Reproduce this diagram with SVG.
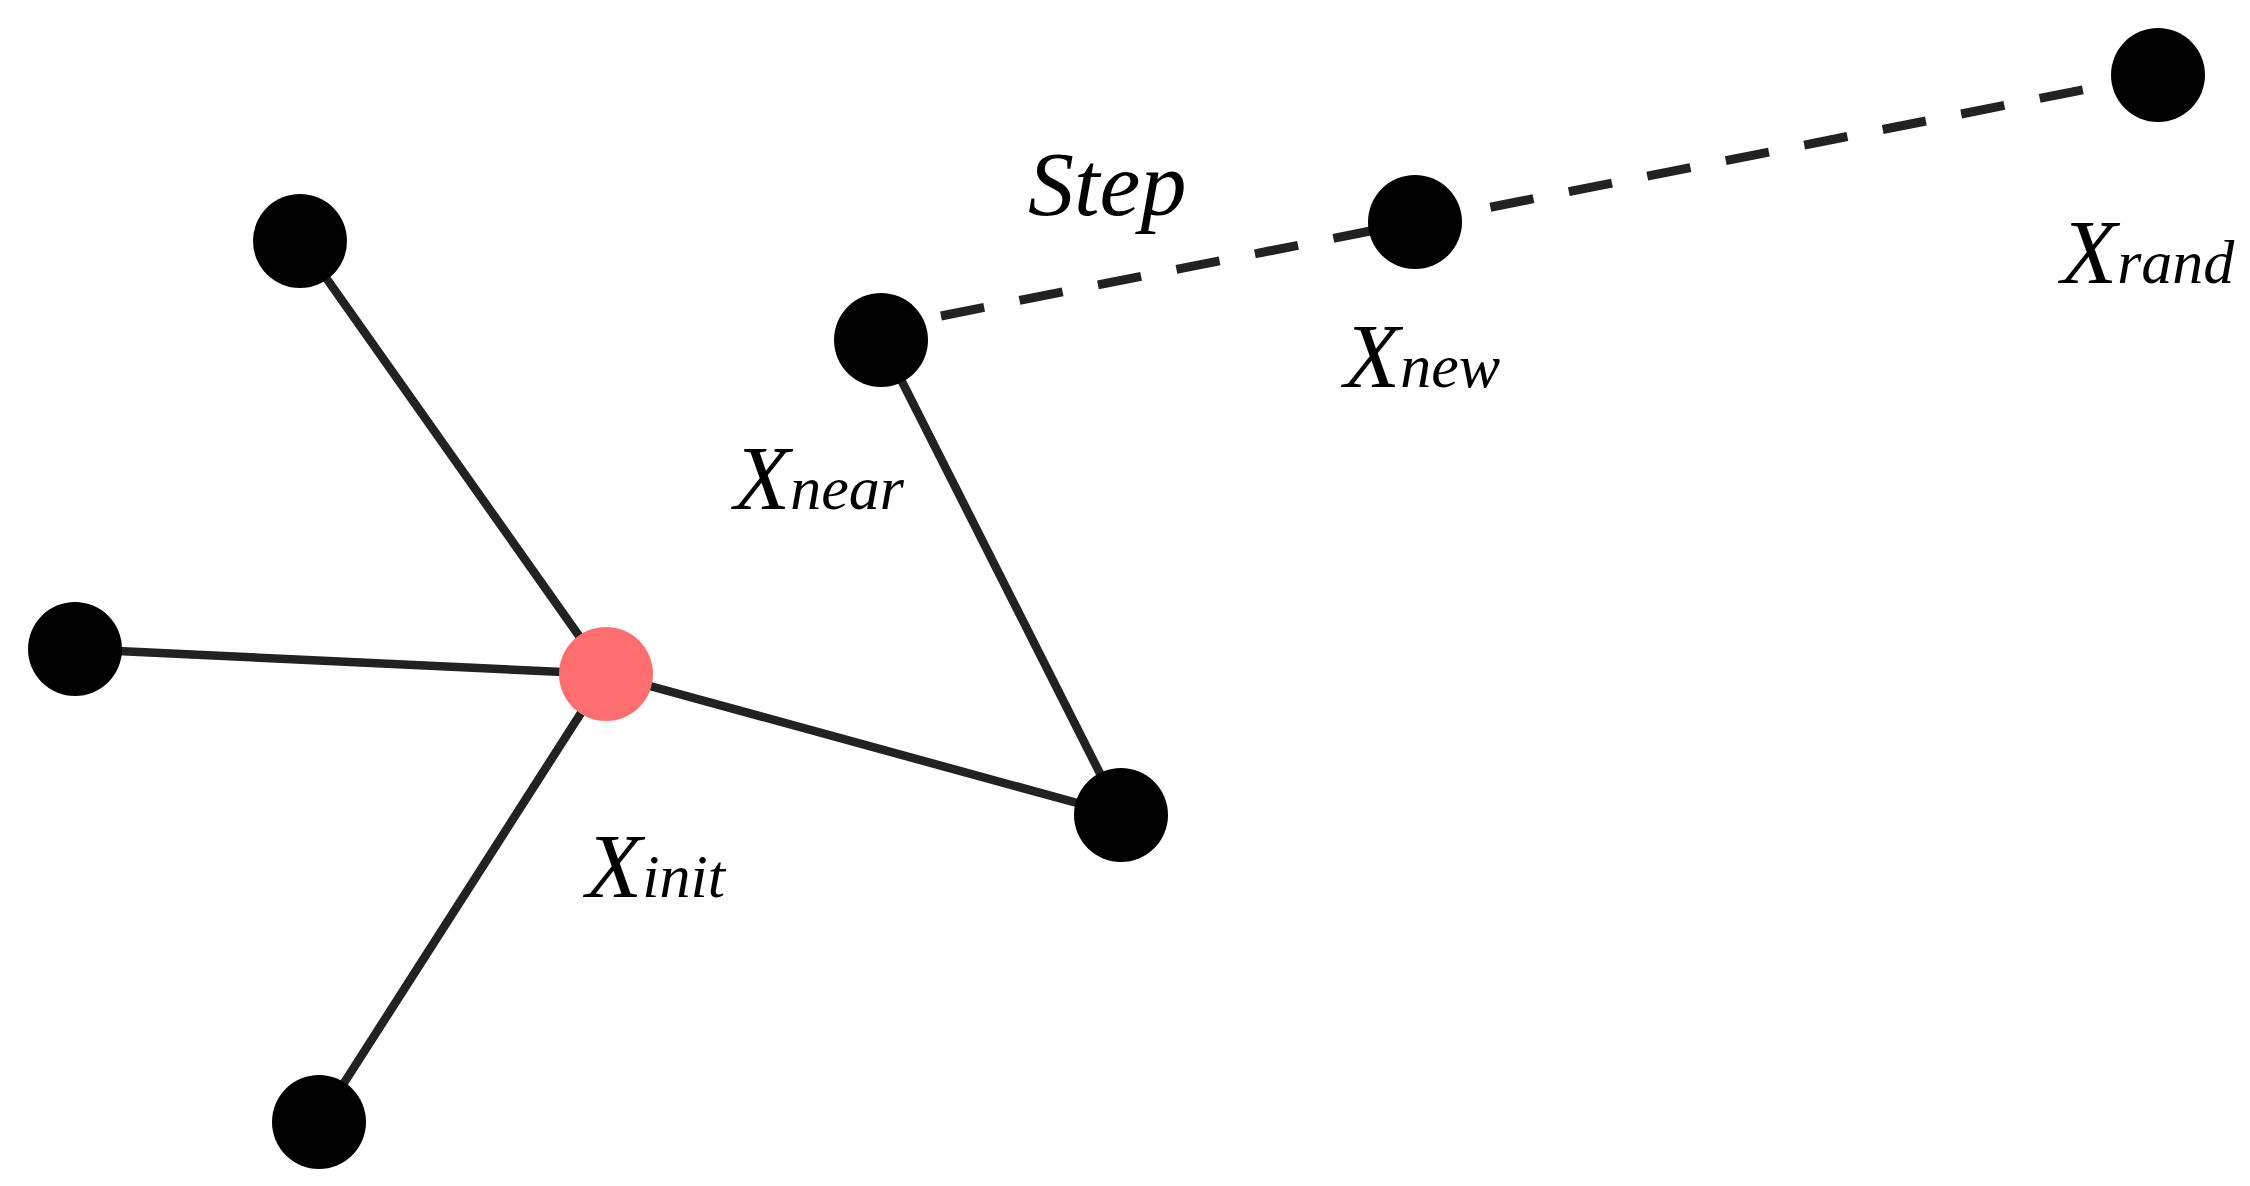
<svg xmlns="http://www.w3.org/2000/svg" width="2250" height="1186" viewBox="0 0 2250 1186">
<style>
.n{fill:#000}
.e{stroke:#222;stroke-width:8.5;fill:none}
.d{stroke:#222;stroke-width:9;stroke-dasharray:44 36;fill:none}
.t{font-family:"Liberation Serif",serif;font-style:italic;fill:#000}
</style>
<rect width="2250" height="1186" fill="#fff"/>
<g id="edges">
<line class="e" x1="606" y1="674" x2="300" y2="241"/>
<line class="e" x1="606" y1="674" x2="75" y2="649"/>
<line class="e" x1="606" y1="674" x2="319" y2="1122"/>
<line class="e" x1="606" y1="674" x2="1121" y2="815"/>
<line class="e" x1="1121" y1="815" x2="881" y2="340"/>
<line class="d" x1="941" y1="316" x2="2158" y2="75"/>
</g>
<g id="n1"><circle class="n" cx="300" cy="241" r="47"/></g>
<g id="n2"><circle class="n" cx="75" cy="649" r="47"/></g>
<g id="n3"><circle class="n" cx="319" cy="1122" r="47"/></g>
<g id="init"><circle cx="606" cy="674" r="47" fill="#ff6e6e"/>
<text class="t" x="586" y="897" font-size="92">X<tspan font-size="62">init</tspan></text></g>
<g id="near"><circle class="n" cx="881" cy="340" r="47"/>
<text class="t" x="734" y="509" font-size="92">X<tspan font-size="62">near</tspan></text></g>
<g id="n4"><circle class="n" cx="1121" cy="815" r="47"/></g>
<g id="new"><circle class="n" cx="1415" cy="222" r="47"/>
<text class="t" x="1344" y="387" font-size="92">X<tspan font-size="62">new</tspan></text></g>
<g id="rand"><circle class="n" cx="2158" cy="75" r="47"/>
<text class="t" x="2061" y="283" font-size="92">X<tspan font-size="62">rand</tspan></text></g>
<g id="step"><text class="t" x="1028" y="215" font-size="92">Step</text></g>
</svg>
